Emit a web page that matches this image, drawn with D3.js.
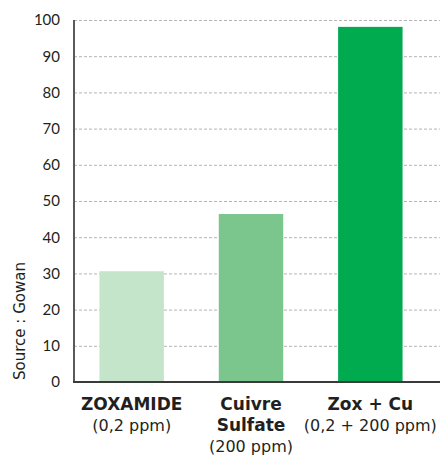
<!DOCTYPE html>
<html lang="fr">
<head>
<meta charset="UTF-8">
<title>Gowan</title>
<script src="https://d3js.org/d3.v7.min.js"></script>
<style>
	body{margin:0;background:#fff;}
	svg text{font-family:"DejaVu Sans",sans-serif;fill:#231f20;}
</style>
</head>
<body>
<div id="chart"></div>
<script>
	// data
	const categories = ["ZOXAMIDE", "Cuivre Sulfate", "Zox + Cu"];
	const boldLines = [["ZOXAMIDE"], ["Cuivre", "Sulfate"], ["Zox + Cu"]];
	const doseLines = ["(0,2 ppm)", "(200 ppm)", "(0,2 + 200 ppm)"];
	const values = [30.6, 46.4, 98.1];
	const colors = ["#c5e5cb", "#7ac68d", "#00aa4f"];
	const yTicks = [0, 10, 20, 30, 40, 50, 60, 70, 80, 90, 100];

	const width = 440, height = 457;
	const mLeft = 74, mTop = 20, mBottom = 382;

	const svg = d3.select("#chart").append("svg")
		.attr("width", width).attr("height", height);

	const x = d3.scaleBand().domain(categories).range([72, 430]).paddingInner(0.46).paddingOuter(0.23);
	const y = d3.scaleLinear().domain([0, 100]).range([mBottom, mTop]);

	// grid
	svg.append("g").selectAll("line").data(yTicks.filter(d => d > 0)).enter().append("line")
		.attr("x1", mLeft).attr("x2", width)
		.attr("y1", d => y(d) + 0.5).attr("y2", d => y(d) + 0.5)
		.attr("stroke", "#b3b3b3").attr("stroke-width", 1).attr("stroke-dasharray", "3,2");

	// bars
	svg.append("g").selectAll("rect").data(categories).enter().append("rect")
		.attr("x", d => x(d)).attr("width", x.bandwidth())
		.attr("y", (d, i) => y(values[i]))
		.attr("height", (d, i) => y(0) - y(values[i]))
		.attr("fill", (d, i) => colors[i]);

	// y axis
	const yAxis = d3.axisLeft(y).tickValues(yTicks).tickSize(0).tickPadding(14);
	const gy = svg.append("g").attr("transform", `translate(${mLeft},0)`).call(yAxis);
	gy.select(".domain").remove();
	gy.selectAll("text").style("font-size", "15px").style("font-family", "Lato, sans-serif").attr("fill", "#231f20");

	svg.append("line").attr("x1", mLeft).attr("x2", mLeft).attr("y1", mTop).attr("y2", mBottom + 1)
		.attr("stroke", "#5a5a5a").attr("stroke-width", 2);
	svg.append("line").attr("x1", mLeft - 1).attr("x2", width).attr("y1", mBottom).attr("y2", mBottom)
		.attr("stroke", "#3a3a3a").attr("stroke-width", 2);

	// x labels
	const xl = svg.append("g").selectAll("text").data(categories).enter().append("text")
		.attr("text-anchor", "middle")
		.attr("x", d => x(d) + x.bandwidth() / 2)
		.attr("y", 410);
	xl.each(function (d, i) {
		const t = d3.select(this);
		const cx = x(d) + x.bandwidth() / 2;
		boldLines[i].forEach((s, j) => {
			t.append("tspan").attr("x", cx).attr("dy", j ? 21 : 0)
				.style("font-weight", "bold").style("font-size", "17px").text(s);
		});
		t.append("tspan").attr("x", cx).attr("dy", 21).style("font-size", "16px").text(doseLines[i]);
	});

	// source
	svg.append("text")
		.attr("transform", "translate(25,321) rotate(-90)")
		.attr("text-anchor", "middle")
		.style("font-size", "15px")
		.text("Source : Gowan");
</script>
</body>
</html>
